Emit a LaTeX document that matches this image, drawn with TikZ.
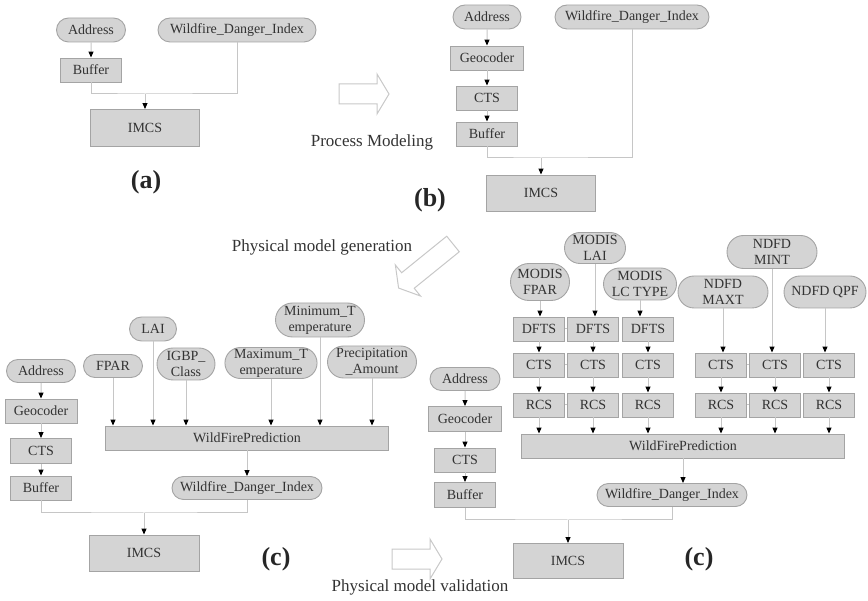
\documentclass[tikz,border=0pt]{standalone}
\usepackage{fontspec}
\setmainfont{Liberation Serif}
\usetikzlibrary{arrows.meta,shapes.misc}

\definecolor{boxfill}{HTML}{D4D4D4}
\definecolor{boxline}{HTML}{A4A4A4}
\definecolor{linkgray}{HTML}{C6C6C6}
\definecolor{txtgray}{HTML}{333333}
\definecolor{outlinegray}{HTML}{C8C8C8}

\tikzset{
  base/.style={fill=boxfill, draw=boxline, line width=0.9pt, text=txtgray,
    inner sep=0pt, align=center, font=\fontsize{14}{16}\selectfont},
  proc/.style={base, rectangle, minimum height=24pt},
  data/.style={base, rounded rectangle, minimum height=24pt},
  link/.style={draw=linkgray, line width=1pt},
  arr/.style={link, -{Triangle[length=6pt,width=5pt,color=black]}},
  caption/.style={text=txtgray, font=\fontsize{17}{20}\selectfont},
  panel/.style={text=black!85, font=\fontsize{26}{30}\selectfont\bfseries},
  pics/hollowarrow/.style={code={
    \draw[draw=outlinegray, line width=1pt, fill=white, line join=miter]
      (0,-10) -- ({#1-12},-10) -- ({#1-12},-20) -- (#1,0) --
      ({#1-12},20) -- ({#1-12},10) -- (0,10) -- cycle;}}
}

\begin{document}
\begin{tikzpicture}[x=1pt,y=-1pt]
\useasboundingbox (0,0) rectangle (868,601);

% ---------- (a) ----------
\node[data, minimum width=69pt]  (aAddr) at (91,30)  {Address};
\node[data, minimum width=158pt] (aWDI)  at (237,30) {Wildfire\_Danger\_Index};
\node[proc, minimum width=61pt]  (aBuf)  at (91,70)  {Buffer};
\node[proc, minimum width=109pt, minimum height=37pt] (aIMCS) at (145,128) {IMCS};
\coordinate (aj) at (145,94);
\draw[arr] (aAddr) -- (aBuf);
\draw[link] (aBuf.south) |- (aj) -| (aWDI.south);
\draw[arr] (aj) -- (aIMCS.north);
\node[panel] (alab) at (146,182) {(a)};

% ---------- step arrow a -> b ----------
\pic at (339,94) {hollowarrow=50};
\node[caption] (pm) at (372,142) {Process Modeling};

% ---------- (b) ----------
\node[data, minimum width=68pt]  (bAddr) at (487,17)  {Address};
\node[data, minimum width=154pt] (bWDI)  at (632,17)  {Wildfire\_Danger\_Index};
\node[proc, minimum width=73pt]  (bGeo)  at (487,58)  {Geocoder};
\node[proc, minimum width=61pt]  (bCTS)  at (487,98)  {CTS};
\node[proc, minimum width=61pt]  (bBuf)  at (487,134) {Buffer};
\node[proc, minimum width=109pt, minimum height=36pt] (bIMCS) at (541,193) {IMCS};
\coordinate (bj) at (541,158);
\draw[arr] (bAddr) -- (bGeo);
\draw[arr] (bGeo) -- (bCTS);
\draw[arr] (bCTS) -- (bBuf);
\draw[link] (bBuf.south) |- (bj) -| (bWDI.south);
\draw[arr] (bj) -- (bIMCS.north);
\node[panel] (blab) at (430,200) {(b)};

% ---------- step arrow b -> c ----------
\node[caption] (pmg) at (322,247) {Physical model generation};
\pic[rotate=219] at (453,244) {hollowarrow=70};

% ---------- (c) left: physical model ----------
\node[data, minimum width=69pt, minimum height=23pt] (cAddr) at (41,371) {Address};
\node[proc, minimum width=72pt] (cGeo) at (41,411) {Geocoder};
\node[proc, minimum width=61pt, minimum height=25pt] (cCTS) at (41,451) {CTS};
\node[proc, minimum width=61pt] (cBuf) at (41,488) {Buffer};
\draw[arr] (cAddr) -- (cGeo);
\draw[arr] (cGeo) -- (cCTS);
\draw[arr] (cCTS) -- (cBuf);

\node[data, minimum width=59pt, minimum height=23pt] (cFPAR) at (113,366) {FPAR};
\node[data, minimum width=47pt] (cLAI)  at (153,329) {LAI};
\node[data, minimum width=58pt, minimum height=32pt] (cIGBP) at (186,364) {IGBP\_\\Class};
\node[data, minimum width=91pt, minimum height=31pt] (cMax)  at (271,363) {Maximum\_T\\emperature};
\node[data, minimum width=89pt, minimum height=34pt] (cMin)  at (320,320) {Minimum\_T\\emperature};
\node[data, minimum width=89pt, minimum height=32pt] (cPrec) at (372,362) {Precipitation\\\_Amount};
\node[proc, minimum width=283pt] (cWFP) at (247,438) {WildFirePrediction};
\foreach \s in {cFPAR,cLAI,cIGBP,cMax,cMin,cPrec}
  \draw[arr] (\s.south) -- (\s.south |- cWFP.north);

\node[data, minimum width=150pt, minimum height=23pt] (cWDI) at (247,488) {Wildfire\_Danger\_Index};
\draw[arr] (cWFP) -- (cWDI);
\node[proc, minimum width=110pt, minimum height=36pt] (cIMCS) at (144,553) {IMCS};
\coordinate (cj) at (144,513);
\draw[link] (cBuf.south) |- (cj) -| (cWDI.south);
\draw[arr] (cj) -- (cIMCS.north);
\node[panel] (clab) at (276,559) {(c)};

% ---------- step arrow c -> c ----------
\pic at (392,559) {hollowarrow=50};
\node[caption] (pmv) at (420,587) {Physical model validation};

% ---------- (c) right: validated model ----------
\node[data, minimum width=70pt, minimum height=23pt] (dAddr) at (465,379) {Address};
\node[proc, minimum width=73pt, minimum height=25pt] (dGeo) at (465,419) {Geocoder};
\node[proc, minimum width=61pt] (dCTS) at (465,460) {CTS};
\node[proc, minimum width=61pt, minimum height=25pt] (dBuf) at (465,495) {Buffer};
\draw[arr] (dAddr) -- (dGeo);
\draw[arr] (dGeo) -- (dCTS);
\draw[arr] (dCTS) -- (dBuf);

\node[data, minimum width=59pt, minimum height=37pt] (dFPAR) at (540,282) {MODIS\\FPAR};
\node[data, minimum width=61pt, minimum height=31pt] (dLAI)  at (595,248) {MODIS\\LAI};
\node[data, minimum width=73pt, minimum height=32pt] (dLC)   at (640,284) {MODIS\\LC TYPE};
\node[data, minimum width=90pt, minimum height=32pt] (dMAXT) at (723,292) {NDFD\\MAXT};
\node[data, minimum width=90pt, minimum height=33pt] (dMINT) at (772,252) {NDFD\\MINT};
\node[data, minimum width=82pt, minimum height=32pt] (dQPF)  at (825,292) {NDFD QPF};

\foreach \i/\x in {1/539,2/593,3/648}
  \node[proc, minimum width=51pt] (dfts\i) at (\x,329) {DFTS};
\foreach \i/\x in {1/539,2/593,3/648,4/721,5/775,6/829} {
  \node[proc, minimum width=51pt] (cts\i) at (\x,365) {CTS};
  \node[proc, minimum width=51pt] (rcs\i) at (\x,405) {RCS};
}
\node[proc, minimum width=323pt] (dWFP) at (683,446) {WildFirePrediction};

\draw[arr] (dFPAR.south) -- (dFPAR.south |- dfts1.north);
\draw[arr] (dLAI.south)  -- (dLAI.south |- dfts2.north);
\draw[arr] (dLC.south)   -- (dLC.south |- dfts3.north);
\draw[arr] (dMAXT.south) -- (dMAXT.south |- cts4.north);
\draw[arr] (dMINT.south) -- (dMINT.south |- cts5.north);
\draw[arr] (dQPF.south)  -- (dQPF.south |- cts6.north);
\foreach \i in {1,2,3}
  \draw[arr] (dfts\i) -- (cts\i);
\foreach \i in {1,...,6} {
  \draw[arr] (cts\i) -- (rcs\i);
  \draw[arr] (rcs\i.south) -- (rcs\i.south |- dWFP.north);
}
\draw[link] (dfts1) -- (dfts2);
\draw[link] (cts1) -- (cts2);
\draw[link] (rcs1) -- (rcs2);
\draw[link] (cts4) -- (cts5);
\draw[link] (rcs4) -- (rcs5);

\node[data, minimum width=150pt, minimum height=23pt] (dWDI) at (672,495) {Wildfire\_Danger\_Index};
\draw[arr] (dWFP.south) -- (dWFP.south |- dWDI.north);
\node[proc, minimum width=110pt, minimum height=35pt] (dIMCS) at (568,561) {IMCS};
\coordinate (dj) at (568,520);
\draw[link] (dBuf.south) |- (dj) -| (dWDI.south);
\draw[arr] (dj) -- (dIMCS.north);
\node[panel] (dlab) at (699,559) {(c)};
\end{tikzpicture}
\end{document}
